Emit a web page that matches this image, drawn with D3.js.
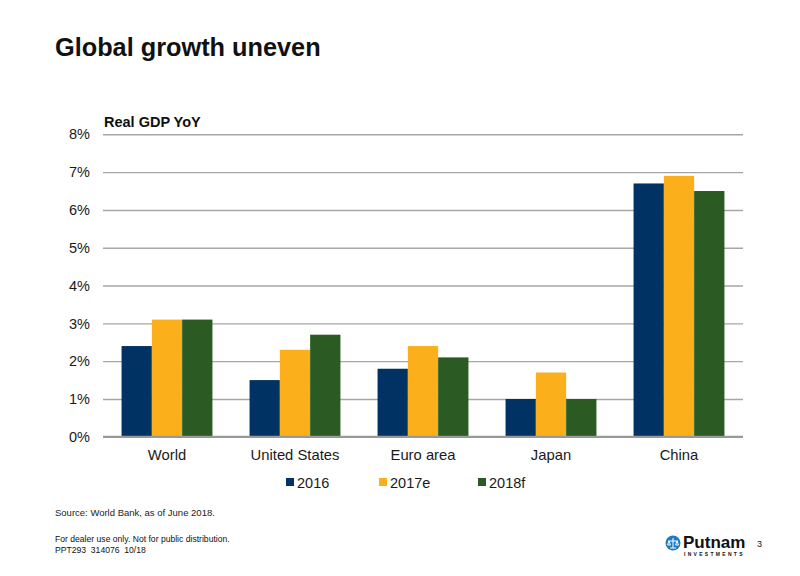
<!DOCTYPE html>
<html><head><meta charset="utf-8">
<script src="https://cdn.jsdelivr.net/npm/d3@7"></script>
<style>body{margin:0;background:#fff;font-family:"Liberation Sans",Arial,sans-serif}</style>
</head><body><svg id="c" width="800" height="576"></svg>
<script>
const categories = ["World","United States","Euro area","Japan","China"];
const seriesNames = ["2016","2017e","2018f"];
const v2016 = [2.4,1.5,1.8,1.0,6.7];
const v2017e = [3.1,2.3,2.4,1.7,6.9];
const v2018f = [3.1,2.7,2.1,1.0,6.5];
const yTicks = [0,1,2,3,4,5,6,7,8];
const colors = ["#003263","#FBAF1A","#2B5B23"];
const seriesVals = [v2016,v2017e,v2018f];

const svg = d3.select("#c");
const L=103,R=743,T=134.3,B=436.8;
const x0 = d3.scaleBand().domain(categories).range([L,R]).paddingInner(0.29).paddingOuter(0.145);
const x1 = d3.scaleBand().domain(seriesNames).range([0,x0.bandwidth()]);
const y = d3.scaleLinear().domain([0,8]).range([B,T]);

svg.append("text").attr("x",55).attr("y",56).attr("font-size",25.3).attr("font-weight","bold").attr("fill","#111").text("Global growth uneven");
svg.append("text").attr("x",104).attr("y",127).attr("font-size",14.5).attr("font-weight","bold").attr("fill","#111").text("Real GDP YoY");

// grid
const yAxis = d3.axisLeft(y).tickValues(yTicks).tickFormat(d=>d+"%").tickSize(-(R-L)).tickPadding(13);
const ga = svg.append("g").attr("transform",`translate(${L},0)`).call(yAxis);
ga.select(".domain").remove();
ga.selectAll(".tick line").attr("stroke","#A6A6A6").attr("stroke-width",1.4);
ga.selectAll(".tick text").attr("font-size",14.5).attr("fill","#1a1a1a").attr("font-family","Liberation Sans, Arial, sans-serif");

// bars
const g = svg.append("g");
categories.forEach((c,i)=>{
  seriesNames.forEach((s,j)=>{
    const v = seriesVals[j][i];
    g.append("rect").attr("x",x0(c)+x1(s)).attr("y",y(v)).attr("width",x1.bandwidth()).attr("height",y(0)-y(v)).attr("fill",colors[j]);
  });
});
// baseline
svg.append("line").attr("x1",L).attr("x2",R).attr("y1",y(0)).attr("y2",y(0)).attr("stroke","#999").attr("stroke-width",2.2);

// x axis labels
const xAxis = d3.axisBottom(x0).tickSize(0).tickPadding(13);
const gx = svg.append("g").attr("transform",`translate(0,${B})`).call(xAxis);
gx.select(".domain").remove();
gx.selectAll(".tick text").attr("font-size",14.8).attr("fill","#1a1a1a").attr("font-family","Liberation Sans, Arial, sans-serif");

// legend
const legX = [286,379,478];
seriesNames.forEach((s,j)=>{
  svg.append("rect").attr("x",legX[j]).attr("y",478).attr("width",8).attr("height",8).attr("fill",colors[j]);
  svg.append("text").attr("x",legX[j]+11).attr("y",487.5).attr("font-size",14.5).attr("fill","#1a1a1a").text(s);
});

svg.append("text").attr("x",55).attr("y",516).attr("font-size",9.5).attr("fill","#222").text("Source: World Bank, as of June 2018.");
svg.append("text").attr("x",55).attr("y",542).attr("font-size",8.6).attr("fill","#111").text("For dealer use only. Not for public distribution.");
svg.append("text").attr("x",55).attr("y",553).attr("font-size",8.6).attr("fill","#111").text("PPT293\u00a0 314076\u00a0 10/18");

// logo
svg.append("circle").attr("cx",673).attr("cy",543).attr("r",7.5).attr("fill","#1a7bc4");
svg.append("path").attr("d","M668,541 L678,541 M673,538 L673,548 M669,541 L667.5,545 L670.5,545 Z M677,541 L675.5,545 L678.5,545 Z M670,548 L676,548").attr("stroke","#fff").attr("stroke-width",1).attr("fill","none");
svg.append("text").attr("x",683).attr("y",548).attr("font-size",17).attr("font-weight","bold").attr("fill","#111").text("Putnam");
svg.append("text").attr("x",684).attr("y",555.5).attr("font-size",5).attr("font-weight","bold").attr("letter-spacing",2.3).attr("fill","#111").text("INVESTMENTS");
svg.append("text").attr("x",757).attr("y",547).attr("font-size",9).attr("fill","#111").text("3");
</script></body></html>
